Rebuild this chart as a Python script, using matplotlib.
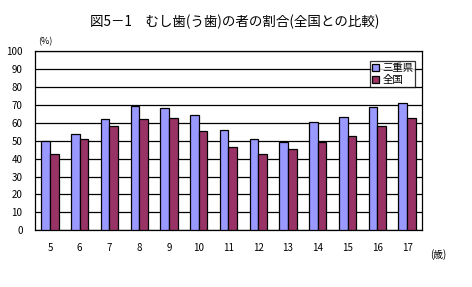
"""Dental caries rate by age, Mie vs national."""
import numpy as np
import matplotlib
matplotlib.use("Agg")
import matplotlib.pyplot as plt

plt.rcParams["font.family"] = ["Noto Sans CJK JP", "DejaVu Sans"]

# data:
ages = ["5", "6", "7", "8", "9", "10", "11", "12", "13", "14", "15", "16", "17"]
mie = [49.7, 54.0, 62.0, 69.3, 68.2, 64.2, 55.9, 50.8, 49.2, 60.3, 63.1, 68.7, 71.0]
zenkoku = [42.5, 50.8, 58.1, 62.0, 62.6, 55.3, 46.4, 42.5, 45.3, 49.2, 52.5, 58.1, 62.6]
yticks = list(range(0, 101, 10))

fig = plt.figure(figsize=(4.72, 2.87), dpi=100)
ax = fig.add_axes([0.0742, 0.1976, 0.8198, 0.6237])

x = np.arange(len(ages))
w = 0.29
ax.bar(x - w / 2, mie, width=w, color="#9999FF", edgecolor="black",
       linewidth=0.9, label="三重県", zorder=3)
ax.bar(x + w / 2, zenkoku, width=w, color="#993366", edgecolor="black",
       linewidth=0.9, label="全国", zorder=3)

ax.set_xlim(-0.5, len(ages) - 0.5)
ax.set_ylim(0, 100)
ax.set_yticks(yticks)
ax.set_yticklabels([str(v) for v in yticks], fontsize=7)
ax.set_xticks(x)
ax.set_xticklabels(ages, fontsize=7)
ax.tick_params(axis="both", length=0)
ax.tick_params(axis="x", pad=9)
ax.tick_params(axis="y", pad=9)
ax.grid(axis="y", color="black", linewidth=0.9, zorder=0)
for sp in ax.spines.values():
    sp.set_color("black")
    sp.set_linewidth(0.9)

leg = ax.legend(loc="upper right", bbox_to_anchor=(0.983, 0.944),
                fontsize=7.5, frameon=True, fancybox=False,
                handlelength=0.7, handleheight=0.7, handletextpad=0.3,
                borderpad=0.2, labelspacing=0.15, borderaxespad=0)
leg.get_frame().set_edgecolor("black")
leg.get_frame().set_linewidth(0.9)

fig.text(0.498, 0.925, "図5－1　むし歯(う歯)の者の割合(全国との比較)",
         ha="center", va="center", fontsize=9.7)
fig.text(0.096, 0.855, "(%)", ha="center", va="center", fontsize=6.5)
fig.text(0.928, 0.113, "(歳)", ha="center", va="center", fontsize=7)

fig.savefig("out.png", dpi=100)
